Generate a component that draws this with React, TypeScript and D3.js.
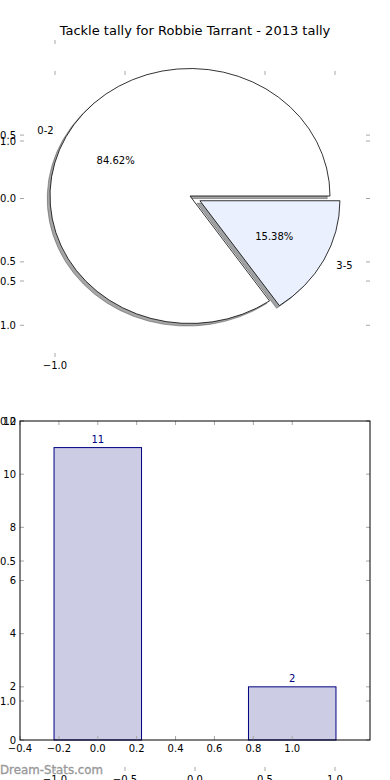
import * as d3 from "d3";
import React from "react";

// pie data
const pieLabels = ["0-2", "3-5"];
const pieValues = [11, 2];
const pieExplode = [0, 0.08];

// bar data
const barPositions = [0, 1];
const barValues = [11, 2];
const barXTicks = [-0.4, -0.2, 0, 0.2, 0.4, 0.6, 0.8, 1.0];
const barYTicks = [0, 2, 4, 6, 8, 10, 12];

// stray axes ticks (pie axes + full-figure axes)
const pieAxisYTicks = [-1, -0.5, 0, 0.5];
const pieAxisXTicks = [-1];
const outerTicks = [-1, -0.5, 0, 0.5, 1];

const title = "Tackle tally for Robbie Tarrant - 2013 tally";
const watermark = "Dream-Stats.com";

const W = 390;
const H = 780;
const TICK = 4;
const tickColor = "#a8a8a8";
const sliceColors = ["#ffffff", "#eaf0fd"];
const barFill = "#ccccE5";
const barStroke = "#000080";
const font = "DejaVu Sans, sans-serif";

const fmt1 = d3.format(".1f");

// scales
const outerX = d3.scaleLinear().domain([-1.25, 1.25]).range([20, 370]);
const outerY = d3.scaleLinear().domain([-1.25, 1.25]).range([771, 71]);
const pieAxisY = d3.scaleLinear().domain([-1.25, 1.25]).range([357, 40]);
const pieX = d3.scaleLinear().domain([-1, 1]).range([50, 330]);
const pieY = d3.scaleLinear().domain([-1, 1]).range([323.5, 68.5]);
const barX = d3.scaleLinear().domain([-0.4, 1.4]).range([20, 370]);
const barY = d3.scaleLinear().domain([0, 12]).range([740, 421]);

function Ticks({
  xs,
  ys,
  x0,
  x1,
  y0,
  y1,
  xScale,
  yScale,
  xLabels = true,
  yLabels = true,
  fx = fmt1,
  fy = fmt1,
}: any) {
  return (
    <g>
      {ys.map((v: number) => (
        <g key={"y" + v}>
          <line x1={x0} x2={x0 + TICK} y1={yScale(v)} y2={yScale(v)} stroke={tickColor} />
          <line x1={x1} x2={x1 - TICK} y1={yScale(v)} y2={yScale(v)} stroke={tickColor} />
          {yLabels && (
            <text x={x0 - 4} y={yScale(v)} dy="0.35em" textAnchor="end" fontSize={10}>
              {fy(v)}
            </text>
          )}
        </g>
      ))}
      {xs.map((v: number) => (
        <g key={"x" + v}>
          <line x1={xScale(v)} x2={xScale(v)} y1={y0} y2={y0 - TICK} stroke={tickColor} />
          <line x1={xScale(v)} x2={xScale(v)} y1={y1} y2={y1 + TICK} stroke={tickColor} />
          {xLabels && (
            <text x={xScale(v)} y={y0 + 11.5} textAnchor="middle" fontSize={10}>
              {fx(v)}
            </text>
          )}
        </g>
      ))}
    </g>
  );
}

export default function App() {
  const total = d3.sum(pieValues);
  const arcs = d3
    .pie<number>()
    .sort(null)
    .startAngle(Math.PI / 2)
    .endAngle(Math.PI / 2 - 2 * Math.PI)(pieValues);
  const arcGen = d3.arc<d3.PieArcDatum<number>>().innerRadius(0).outerRadius(1);

  const cx = pieX(0);
  const cy = pieY(0);
  const rx = pieX(1) - cx;
  const ry = cy - pieY(1);

  const wedges = arcs.map((a, i) => {
    const mid = (a.startAngle + a.endAngle) / 2;
    const ux = Math.sin(mid);
    const uy = -Math.cos(mid);
    const ox = cx + pieExplode[i] * rx * ux;
    const oy = cy + pieExplode[i] * ry * uy;
    return {a, i, ux, uy, ox, oy, d: arcGen(a) as string};
  });

  const shadowFill = (c: string) => {
    const k = d3.rgb(c);
    return d3.rgb(k.r * 0.3, k.g * 0.3, k.b * 0.3).formatHex();
  };

  const barW = 0.45;

  return (
    <svg
      width={W}
      height={H}
      style={{position: "absolute", left: 0, top: 0, background: "#fff"}}
      fontFamily={font}
    >
      <text x={195} y={35} textAnchor="middle" fontSize={13}>
        {title}
      </text>

      {/* full-figure axes ticks */}
      <Ticks xs={outerTicks} ys={outerTicks} x0={20} x1={370} y0={771} y1={71} xScale={outerX} yScale={outerY} />

      {/* pie axes ticks */}
      <Ticks
        xs={pieAxisXTicks}
        ys={pieAxisYTicks}
        x0={20}
        x1={370}
        y0={357}
        y1={40}
        xScale={outerX}
        yScale={pieAxisY}
      />

      {/* shadows */}
      {wedges.map((w) => (
        <path
          key={"s" + w.i}
          d={w.d}
          transform={`translate(${w.ox - 0.02 * rx},${w.oy + 0.02 * ry}) scale(${rx},${ry})`}
          fill={shadowFill(sliceColors[w.i])}
          fillOpacity={0.5}
          stroke={shadowFill(sliceColors[w.i])}
          strokeOpacity={0.5}
          vectorEffect="non-scaling-stroke"
        />
      ))}
      {wedges.map((w) => (
        <path
          key={"w" + w.i}
          d={w.d}
          transform={`translate(${w.ox},${w.oy}) scale(${rx},${ry})`}
          fill={sliceColors[w.i]}
          stroke="#000"
          strokeWidth={0.8}
          vectorEffect="non-scaling-stroke"
        />
      ))}
      {wedges.map((w) => (
        <g key={"l" + w.i} fontSize={10}>
          <text
            x={w.ox + 1.1 * rx * w.ux}
            y={w.oy + 1.1 * ry * w.uy}
            dy="0.35em"
            textAnchor={w.ux < 0 ? "end" : "start"}
          >
            {pieLabels[w.i]}
          </text>
          <text x={w.ox + 0.6 * rx * w.ux} y={w.oy + 0.6 * ry * w.uy} dy="0.35em" textAnchor="middle">
            {d3.format(".2f")((pieValues[w.i] / total) * 100) + "%"}
          </text>
        </g>
      ))}

      {/* bar axes */}
      {barPositions.map((p, i) => (
        <g key={"b" + i}>
          <rect
            x={barX(p - barW / 2)}
            y={barY(barValues[i])}
            width={barX(p + barW / 2) - barX(p - barW / 2)}
            height={barY(0) - barY(barValues[i])}
            fill={barFill}
            stroke={barStroke}
          />
          <text x={barX(p)} y={barY(barValues[i]) - 5} textAnchor="middle" fontSize={10} fill={barStroke}>
            {barValues[i]}
          </text>
        </g>
      ))}
      <Ticks
        xs={barXTicks}
        ys={barYTicks}
        x0={20}
        x1={370}
        y0={740}
        y1={421}
        xScale={barX}
        yScale={barY}
        fy={d3.format("d")}
      />
      <rect x={20} y={421} width={350} height={319} fill="none" stroke="#000" />

      <text
        x={0}
        y={774}
        fontSize={12.5}
        fill="#999"
        stroke="#999"
        strokeWidth={0.35}
        textLength={103}
        lengthAdjust="spacingAndGlyphs"
      >
        {watermark}
      </text>
    </svg>
  );
}
